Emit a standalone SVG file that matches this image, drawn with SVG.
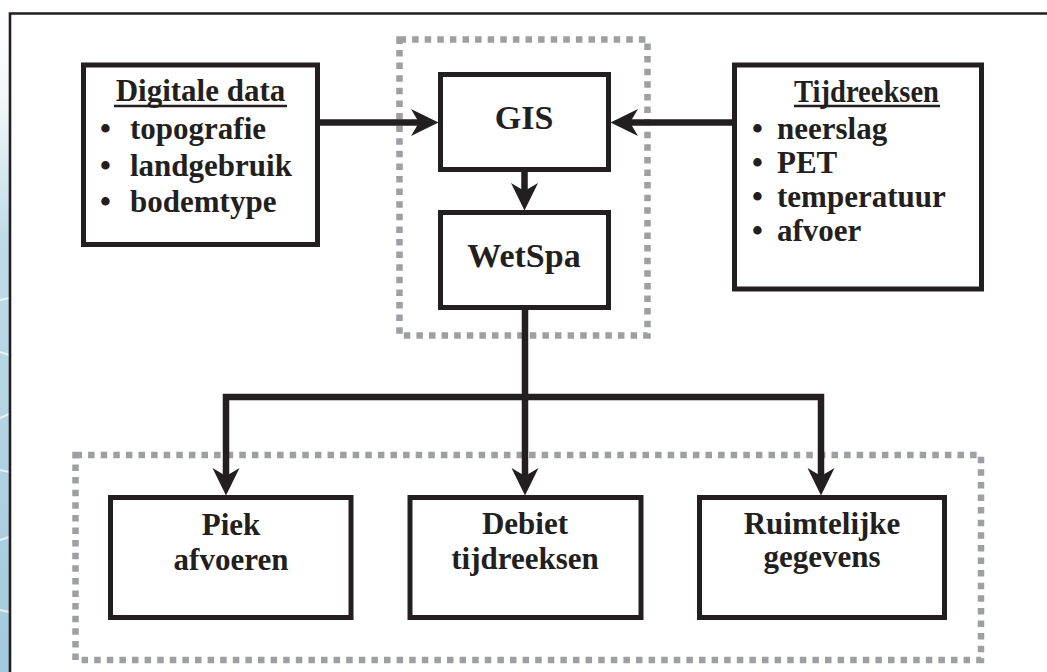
<svg xmlns="http://www.w3.org/2000/svg" width="1047" height="672" viewBox="0 0 1047 672">
  <style>
    .box { fill: #ffffff; stroke: #231f20; stroke-width: 5; }
    .group { fill: none; stroke: #9d9fa2; stroke-width: 6.5; stroke-dasharray: 6.5 6.1; }
    .wire { fill: none; stroke: #231f20; stroke-width: 6.5; stroke-linejoin: miter; }
    .arrow { marker-end: url(#head); }
    .t { font-family: "Liberation Serif", "Times New Roman", serif; font-weight: bold; fill: #231f20; }
    .item { font-size: 31px; }
    .big { font-size: 34px; text-anchor: middle; }
    .mid { text-anchor: middle; }
    .ul { stroke: #231f20; stroke-width: 2.6; }
  </style>
  <defs>
    <marker id="head" markerUnits="userSpaceOnUse" viewBox="0 -15 28 30" markerWidth="28" markerHeight="30" refX="8" refY="0" orient="auto" overflow="visible">
      <path d="M0,-13.5 L27.5,0 L0,13.5 L8,0 Z" fill="#231f20"/>
    </marker>
    <linearGradient id="water" x1="0" y1="0" x2="0" y2="1">
      <stop offset="0" stop-color="#ffffff"/>
      <stop offset="0.15" stop-color="#f2f7fa"/>
      <stop offset="0.35" stop-color="#bfdbe8"/>
      <stop offset="1" stop-color="#a3c9dc"/>
    </linearGradient>
  </defs>

  <!-- page background and water strip on the left margin -->
  <rect x="0" y="0" width="1047" height="672" fill="#ffffff"/>
  <rect x="0" y="0" width="10" height="672" fill="url(#water)"/>
  <g stroke="#ffffff" stroke-width="2" opacity="0.7">
    <line x1="0" y1="300" x2="9" y2="298"/>
    <line x1="0" y1="352" x2="9" y2="355"/>
    <line x1="0" y1="418" x2="9" y2="414"/>
    <line x1="0" y1="470" x2="9" y2="472"/>
    <line x1="0" y1="540" x2="9" y2="537"/>
    <line x1="0" y1="610" x2="9" y2="612"/>
  </g>

  <!-- outer frame -->
  <path d="M10,672 V13.5 H1047" fill="none" stroke="#231f20" stroke-width="2.6"/>

  <!-- dashed grouping frames -->
  <g id="model-group">
    <rect class="group" x="399.5" y="39.5" width="248" height="296"/>
  </g>
  <g id="output-group">
    <rect class="group" x="75.5" y="455" width="905.5" height="205"/>
  </g>

  <!-- connectors -->
  <g id="connectors">
    <path class="wire arrow" d="M317.5,122.5 H419"/>
    <path class="wire arrow" d="M734.5,122.5 H630"/>
    <path class="wire arrow" d="M524.5,169.5 V191"/>
    <path class="wire arrow" d="M525,307.5 V476"/>
    <path class="wire arrow" d="M525,397 H226 V476"/>
    <path class="wire arrow" d="M525,397 H821 V476"/>
  </g>

  <g id="digitale-data">
    <rect class="box" x="83.5" y="65" width="234" height="179.5"/>
    <text class="t item mid" x="200.5" y="101">Digitale data</text>
    <line class="ul" x1="114" y1="106" x2="287" y2="106"/>
    <text class="t item"><tspan x="100" y="139">•</tspan><tspan x="130" y="139">topografie</tspan></text>
    <text class="t item"><tspan x="100" y="176">•</tspan><tspan x="130" y="176">landgebruik</tspan></text>
    <text class="t item"><tspan x="100" y="212">•</tspan><tspan x="130" y="212">bodemtype</tspan></text>
  </g>

  <g id="tijdreeksen">
    <rect class="box" x="734.5" y="65" width="247" height="224"/>
    <text class="t item" x="794" y="102" textLength="145" lengthAdjust="spacingAndGlyphs">Tijdreeksen</text>
    <line class="ul" x1="794" y1="106" x2="940" y2="106"/>
    <text class="t item"><tspan x="752" y="139">•</tspan><tspan x="777" y="139">neerslag</tspan></text>
    <text class="t item"><tspan x="752" y="173">•</tspan><tspan x="777" y="173">PET</tspan></text>
    <text class="t item"><tspan x="752" y="207">•</tspan><tspan x="777" y="207">temperatuur</tspan></text>
    <text class="t item"><tspan x="752" y="241">•</tspan><tspan x="777" y="241">afvoer</tspan></text>
  </g>

  <g id="gis">
    <rect class="box" x="440.5" y="74.5" width="168" height="95"/>
    <text class="t big" x="524" y="129">GIS</text>
  </g>

  <g id="wetspa">
    <rect class="box" x="440.5" y="212.5" width="168" height="95"/>
    <text class="t big" x="524" y="267">WetSpa</text>
  </g>

  <g id="piek-afvoeren">
    <rect class="box" x="110.5" y="497.5" width="240.5" height="120"/>
    <text class="t item mid" x="231" y="535">Piek</text>
    <text class="t item mid" x="231" y="570">afvoeren</text>
  </g>

  <g id="debiet-tijdreeksen">
    <rect class="box" x="410" y="497.5" width="231" height="120"/>
    <text class="t item mid" x="525" y="534">Debiet</text>
    <text class="t item mid" x="525" y="569">tijdreeksen</text>
  </g>

  <g id="ruimtelijke-gegevens">
    <rect class="box" x="699.5" y="497.5" width="245" height="120"/>
    <text class="t item mid" x="822" y="534">Ruimtelijke</text>
    <text class="t item mid" x="822" y="567">gegevens</text>
  </g>
</svg>
